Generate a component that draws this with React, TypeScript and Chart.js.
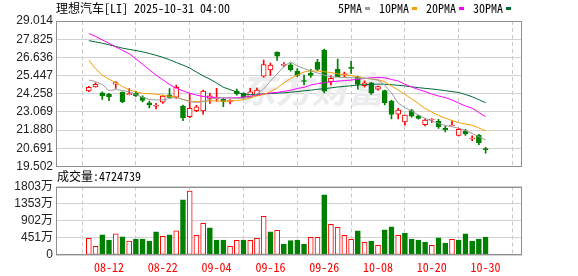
import React, { useEffect, useRef } from "react";
import { Chart, registerables } from "chart.js";
Chart.register(...registerables);

const dates = [
  "08-07","08-08","08-11","08-12","08-13","08-14","08-15","08-18","08-19","08-20",
  "08-21","08-22","08-25","08-26","08-27","08-28","08-29","09-02","09-03","09-04",
  "09-05","09-08","09-09","09-10","09-11","09-12","09-15","09-16","09-17","09-18",
  "09-19","09-22","09-23","09-24","09-25","09-26","09-29","09-30","10-01","10-02",
  "10-03","10-06","10-07","10-08","10-09","10-10","10-13","10-14","10-15","10-16",
  "10-17","10-20","10-21","10-22","10-23","10-24","10-27","10-28","10-29","10-30",
];
const opens = [
  24.45,24.70,24.32,24.24,24.89,24.35,24.20,24.30,24.02,23.67,
  23.44,23.70,24.19,24.02,23.46,22.76,23.15,23.13,23.96,23.93,
  23.89,23.76,24.44,24.29,24.06,24.17,25.40,25.81,26.98,26.11,
  26.15,25.74,25.12,25.59,26.33,27.11,25.04,25.85,25.49,25.98,
  25.37,24.78,24.98,24.55,24.46,23.78,22.93,22.41,23.15,22.82,
  22.23,22.54,22.46,21.99,22.15,21.54,21.82,21.30,21.54,20.65,
];
const highs = [
  24.74,24.98,24.39,24.28,25.06,24.39,24.60,24.43,24.13,23.78,
  23.63,24.17,24.59,24.83,23.52,24.27,23.50,24.50,24.29,24.61,
  23.95,23.88,24.57,24.32,24.61,24.63,26.46,26.26,27.00,26.30,
  26.24,25.90,25.48,25.85,26.51,27.18,25.44,26.53,25.68,26.39,
  25.42,25.11,25.00,24.76,24.50,23.85,23.30,22.87,23.24,22.87,
  22.63,22.63,22.59,22.15,22.48,22.00,21.93,21.50,21.61,20.76,
];
const lows = [
  24.39,24.68,23.89,23.80,24.60,23.67,24.18,24.06,23.72,23.33,
  23.26,23.63,24.01,23.96,22.50,22.69,23.08,22.93,23.63,23.78,
  23.41,23.59,24.17,23.98,24.02,24.14,25.35,25.45,26.43,26.02,
  25.74,25.37,24.83,25.33,25.76,24.32,24.83,25.37,25.37,25.59,
  24.55,24.68,24.22,24.50,23.52,22.61,22.61,22.20,22.72,22.59,
  22.15,22.39,21.99,21.76,22.15,21.50,21.54,21.19,20.93,20.37,
];
const closes = [
  24.68,24.87,24.11,24.06,24.99,23.74,24.24,24.13,23.83,23.52,
  23.50,24.11,24.01,24.68,22.67,23.31,23.41,24.43,24.13,24.01,
  23.76,23.82,24.24,24.02,24.39,24.50,26.17,26.14,26.72,26.14,
  25.83,25.45,25.06,25.46,25.85,24.42,25.27,25.38,25.56,25.92,
  24.87,24.98,24.29,24.72,23.67,22.90,23.19,22.87,22.80,22.65,
  22.54,22.61,22.10,21.89,22.21,21.93,21.63,21.33,21.06,20.61,
];
const prevClose = 24.40;
// volume in 万 shares
const volumes = [
  440,229,528,396,554,475,369,422,422,369,
  607,493,528,633,1451,1680,519,836,712,396,
  396,229,387,396,387,440,1020,607,651,290,
  378,396,290,466,466,1583,809,730,519,413,
  633,334,369,255,660,739,519,580,422,396,
  343,255,449,317,413,396,554,369,422,472.4739,
];
const ma5 = [
  25.15,25.06,24.86,24.47,24.53,24.47,24.39,24.21,24.01,23.89,
  23.85,23.85,23.95,24.02,23.88,23.75,23.68,23.75,23.89,23.98,
  24.01,23.98,23.96,23.96,24.04,24.24,24.57,25.09,25.55,26.04,
  26.34,26.07,25.91,25.74,25.62,25.48,25.36,25.34,25.32,25.31,
  25.28,25.27,25.22,25.15,24.83,24.31,23.65,23.36,23.13,22.87,
  22.64,22.48,22.33,22.18,22.10,22.01,21.86,21.66,21.46,21.24,
];
const ma10 = [
  26.45,25.89,25.48,25.20,24.99,24.74,24.51,24.38,24.29,24.26,
  24.23,24.15,24.10,24.06,23.88,23.78,23.74,23.76,23.80,23.78,
  23.78,23.78,23.82,23.87,23.98,24.11,24.21,24.40,24.63,24.96,
  25.25,25.48,25.68,25.76,25.74,25.70,25.64,25.56,25.49,25.44,
  25.36,25.27,25.23,25.18,25.04,24.76,24.50,24.22,23.91,23.62,
  23.29,23.06,22.84,22.66,22.51,22.37,22.28,22.20,22.02,21.82,
];
const ma20 = [
  28.20,28.00,27.78,27.56,27.32,27.09,26.88,26.54,26.18,25.83,
  25.47,25.18,24.86,24.62,24.45,24.29,24.17,24.08,24.04,24.01,
  23.99,23.99,24.00,24.04,24.10,24.17,24.24,24.31,24.35,24.42,
  24.48,24.60,24.68,24.83,24.92,24.98,25.04,25.08,25.12,25.15,
  25.21,25.25,25.30,25.32,25.30,25.19,25.09,24.88,24.70,24.54,
  24.40,24.24,24.11,24.01,23.85,23.65,23.46,23.31,23.03,22.76,
];
const ma30 = [
  27.73,27.65,27.56,27.46,27.35,27.24,27.16,27.08,27.00,26.89,
  26.77,26.64,26.48,26.30,26.13,25.94,25.68,25.42,25.22,24.96,
  24.68,24.53,24.37,24.21,24.20,24.22,24.25,24.27,24.30,24.32,
  24.36,24.40,24.45,24.49,24.55,24.59,24.64,24.70,24.74,24.78,
  24.83,24.85,24.88,24.89,24.88,24.85,24.81,24.77,24.71,24.66,
  24.61,24.57,24.52,24.46,24.40,24.34,24.21,24.06,23.87,23.67,
];
const priceTicks = ["19.502","20.691","21.880","23.069","24.258","25.447","26.636","27.825","29.014"];
const volTickValues = [0, 451, 902, 1353, 1803];
const volTickLabels = ["0", "451万", "902万", "1353万", "1803万"];
const xTickDates = ["08-12","08-22","09-04","09-16","09-26","10-08","10-20","10-30"];
const titleText = "理想汽车[LI] 2025-10-31 04:00";
const volTitle = "成交量:4724739";
const maNames = ["5PMA", "10PMA", "20PMA", "30PMA"];

const RED = "#ff0000";
const GREEN = "#008000";
const MA_COLORS = ["#9c9c9c", "#f5a000", "#ff00ff", "#006b35"];
const MONO = "'Noto Sans Mono CJK SC', 'DejaVu Sans Mono', monospace";
const AXISFONT = "'Liberation Sans', Arial, 'Noto Sans CJK SC', sans-serif";

const boxPlugin = {
  id: "box",
  afterDraw(chart: any) {
    const { ctx, chartArea: a } = chart;
    ctx.save();
    ctx.strokeStyle = "#8f8f8f";
    ctx.lineWidth = 1;
    const l = Math.round(a.left) + 0.5;
    const t = Math.round(a.top) + 0.5;
    const r = Math.round(a.right) - 0.5;
    const b = Math.round(a.bottom) - 0.5;
    ctx.strokeRect(l, t, r - l, b - t);
    ctx.restore();
  },
};

const watermarkPlugin = {
  id: "wm",
  beforeDatasetsDraw(chart: any) {
    const { ctx } = chart;
    ctx.save();
    ctx.fillStyle = "#ececef";
    ctx.font = "italic bold 36px 'Noto Sans CJK SC'";
    ctx.textBaseline = "middle";
    ctx.fillText("东方财富", 240, 89);
    ctx.restore();
  },
};

export default function App() {
  const priceRef = useRef<HTMLCanvasElement>(null);
  const volRef = useRef<HTMLCanvasElement>(null);

  useEffect(() => {
    const n = dates.length;
    const idx = dates.map((_, i) => i);
    const up = closes.map((c, i) => c >= opens[i]);
    const volUp = closes.map((c, i) => c >= (i === 0 ? prevClose : closes[i - 1]));
    const xTickIdx = xTickDates.map((d) => dates.indexOf(d));
    const xMin = -0.55;
    const xMax = n + 0.08;
    const mas = [ma5, ma10, ma20, ma30];

    const xScaleBase = (showLabels: boolean, height: number) => ({
      type: "linear" as const,
      min: xMin,
      max: xMax,
      afterBuildTicks: (s: any) => {
        s.ticks = xTickIdx.map((v) => ({ value: v }));
      },
      afterFit: (s: any) => {
        s.height = height;
      },
      ticks: {
        display: showLabels,
        autoSkip: false,
        maxRotation: 0,
        padding: 5,
        color: RED,
        font: { family: MONO, size: 12 },
        callback: (_v: any, i: number) => xTickDates[i],
      },
      grid: { color: "#c8c8c8", drawTicks: false, lineWidth: 1 },
      border: { display: false, dash: [4, 3] },
    });

    const yScaleBase = (values: number[], labels: string[], min: number, max: number) => ({
      min,
      max,
      afterBuildTicks: (s: any) => {
        s.ticks = values.map((v) => ({ value: v }));
      },
      afterFit: (s: any) => {
        s.width = 56;
      },
      ticks: {
        autoSkip: false,
        callback: (_v: any, i: number) => labels[i],
        color: "#222",
        padding: 3,
        font: { family: AXISFONT, size: 12 },
      },
      grid: { color: "#d2d2d2", drawTicks: false },
      border: { display: false },
    });

    const priceChart = new Chart(priceRef.current!, {
      type: "bar",
      data: {
        datasets: [
          ...mas.map((m, k) => ({
            type: "line" as const,
            label: maNames[k],
            data: idx.map((i) => ({ x: i, y: m[i] })),
            borderColor: MA_COLORS[k],
            borderWidth: 1,
            pointRadius: 0,
            tension: 0,
            order: 0,
          })),
          {
            type: "bar" as const,
            label: "body",
            data: idx.map((i) => ({ x: i, y: [opens[i], closes[i]] })),
            backgroundColor: up.map((u) => (u ? "#ffffff" : GREEN)),
            borderColor: up.map((u) => (u ? RED : GREEN)),
            borderWidth: 1,
            borderSkipped: false,
            barThickness: 5,
            minBarLength: 1,
            grouped: false,
            order: 1,
          },
          {
            type: "bar" as const,
            label: "wick",
            data: idx.map((i) => ({ x: i, y: [lows[i], highs[i]] })),
            backgroundColor: up.map((u) => (u ? RED : GREEN)),
            borderWidth: 0,
            barThickness: 1,
            grouped: false,
            order: 2,
          },
        ] as any,
      },
      options: {
        animation: false,
        responsive: false,
        maintainAspectRatio: false,
        layout: { padding: { left: 0, right: 56, top: 21, bottom: 109.5 } },
        plugins: { legend: { display: false }, tooltip: { enabled: false } },
        scales: {
          x: xScaleBase(false, 0) as any,
          y: yScaleBase(priceTicks.map((t) => parseFloat(t)), priceTicks, 19.502, 29.014) as any,
        },
      },
      plugins: [watermarkPlugin, boxPlugin],
    });

    const volChart = new Chart(volRef.current!, {
      type: "bar",
      data: {
        datasets: [
          {
            label: "vol",
            data: idx.map((i) => ({ x: i, y: volumes[i] })),
            backgroundColor: volUp.map((u) => (u ? "#ffffff" : GREEN)),
            borderColor: volUp.map((u) => (u ? RED : GREEN)),
            borderWidth: 1,
            borderSkipped: false,
            barThickness: 5,
            grouped: false,
          } as any,
        ],
      },
      options: {
        animation: false,
        responsive: false,
        maintainAspectRatio: false,
        layout: { padding: { left: 0, right: 56, top: 186.5, bottom: 0 } },
        plugins: { legend: { display: false }, tooltip: { enabled: false } },
        scales: {
          x: xScaleBase(true, 21) as any,
          y: yScaleBase(volTickValues, volTickLabels, 0, 1803) as any,
        },
      },
      plugins: [boxPlugin],
    });

    return () => {
      priceChart.destroy();
      volChart.destroy();
    };
  }, []);

  const textStyle: React.CSSProperties = {
    position: "absolute",
    font: `12px ${MONO}`,
    color: "#000",
    whiteSpace: "nowrap",
    lineHeight: "14px",
  };

  return (
    <div style={{ position: "fixed", left: 0, top: 0, width: 578, height: 276, background: "#fff", overflow: "hidden" }}>
      <canvas ref={priceRef} width={578} height={276} style={{ position: "absolute", left: 0, top: 0, width: 578, height: 276 }} />
      <canvas ref={volRef} width={578} height={276} style={{ position: "absolute", left: 0, top: 0, width: 578, height: 276 }} />
      <div style={{ ...textStyle, left: 56, top: 1 }}>{titleText}</div>
      <div style={{ ...textStyle, left: 338, top: 1, display: "flex", alignItems: "center" }}>
        {maNames.map((name, k) => (
          <span key={name} style={{ display: "inline-flex", alignItems: "center", marginRight: k < 3 ? 9 : 0 }}>
            <span>{name}</span>
            <span style={{ display: "inline-block", width: 5, height: 3, background: MA_COLORS[k], marginLeft: 3 }} />
          </span>
        ))}
      </div>
      <div style={{ ...textStyle, left: 57, top: 169 }}>{volTitle}</div>
    </div>
  );
}
